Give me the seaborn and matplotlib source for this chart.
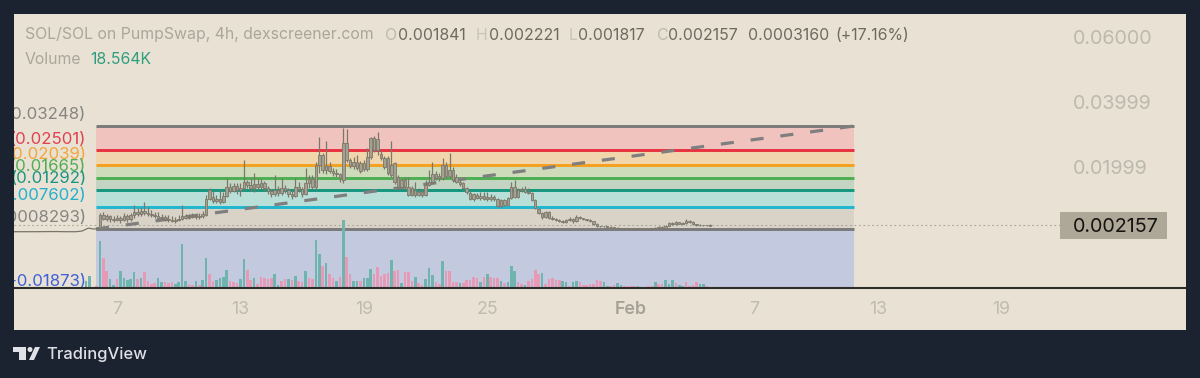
import pandas as pd
import matplotlib
matplotlib.use("Agg")
import matplotlib.pyplot as plt
import seaborn as sns
from matplotlib.patches import Polygon, Ellipse, FancyBboxPatch

# ---------------- DATA ----------------
# prices in units of 0.001 SOL, one candle every 4h from Jan 6 04:00
opens = [
    1.1, 5.1, 3.9, 4.8, 3.9, 3.6, 4.2, 3.6, 4.8, 3.9,
    5.1, 6.0, 5.4, 6.3, 5.7, 5.4, 5.1, 4.8, 4.2, 4.5,
    3.9, 3.6, 3.3, 3.6, 3.9, 4.8, 4.2, 4.5, 4.8, 4.5,
    4.8, 5.1, 10.0, 10.7, 9.4, 10.0, 9.1, 11.0, 13.8, 12.5,
    14.1, 12.8, 13.4, 15.3, 14.4, 13.4, 14.7, 13.8, 15.0, 13.4,
    12.5, 11.6, 12.8, 11.9, 13.4, 12.8, 11.6, 11.0, 13.8, 13.1,
    11.6, 15.0, 16.2, 13.8, 20.5, 23.6, 19.0, 20.2, 18.7, 18.1,
    17.7, 15.9, 27.3, 22.0, 20.2, 21.4, 18.7, 21.1, 19.3, 23.0,
    28.8, 25.1, 24.0, 22.7, 18.1, 20.5, 21.1, 16.8, 13.8, 15.9,
    13.8, 11.3, 12.8, 11.3, 12.2, 11.3, 14.4, 15.3, 17.7, 16.5,
    16.5, 20.5, 17.0, 19.0, 16.8, 15.3, 15.0, 13.4, 12.0, 10.0,
    11.3, 10.4, 11.0, 10.0, 10.7, 10.0, 10.0, 7.9, 9.7, 8.2,
    10.4, 13.8, 10.7, 12.8, 13.1, 12.2, 12.0, 9.7, 7.0, 5.7,
    4.5, 6.0, 4.2, 3.9, 3.6, 3.3, 3.0, 3.6, 3.9, 3.3,
    4.5, 4.2, 3.9, 3.6, 3.3, 2.4, 1.8, 1.7, 1.6, 1.5,
    1.3, 1.2, 1.1, 1.1, 1.0, 1.0, 0.9, 0.9, 0.9, 0.85,
    0.85, 0.9, 0.85, 1.1, 1.5, 1.2, 1.8, 2.7, 2.3, 2.9,
    2.5, 2.7, 3.3, 3.0, 2.4, 2.1, 2.0, 2.1, 1.841,
]
closes = [
    5.1, 3.9, 4.8, 3.9, 3.6, 4.2, 3.6, 4.8, 3.9, 5.1,
    6.0, 5.4, 6.3, 5.7, 5.4, 5.1, 4.8, 4.2, 4.5, 3.9,
    3.6, 3.3, 3.6, 3.9, 4.8, 4.2, 4.5, 4.8, 4.5, 4.8,
    5.4, 10.0, 12.8, 9.4, 10.0, 9.1, 11.0, 13.8, 12.5, 14.1,
    12.8, 13.4, 15.3, 14.4, 13.4, 14.7, 13.8, 15.0, 13.4, 12.5,
    11.6, 12.8, 11.9, 13.4, 12.8, 11.6, 11.0, 13.8, 13.1, 11.6,
    15.0, 16.2, 13.8, 20.5, 23.6, 19.0, 20.2, 18.7, 18.1, 17.7,
    16.5, 27.3, 22.0, 20.2, 21.4, 19.6, 21.1, 19.3, 23.0, 28.8,
    25.1, 28.5, 22.7, 20.0, 22.7, 17.4, 15.3, 13.8, 15.9, 13.8,
    11.3, 13.4, 11.3, 12.2, 11.3, 14.4, 15.3, 17.7, 16.5, 17.0,
    20.5, 17.0, 19.0, 15.9, 15.3, 14.7, 13.4, 12.2, 10.0, 11.6,
    10.4, 11.0, 10.0, 10.7, 10.0, 10.7, 7.9, 9.7, 8.2, 10.4,
    13.8, 10.7, 12.8, 13.1, 12.2, 12.0, 9.7, 7.3, 5.7, 4.5,
    6.0, 4.2, 3.9, 3.6, 3.3, 3.0, 3.6, 3.9, 3.3, 4.5,
    4.2, 3.9, 3.6, 3.3, 2.4, 1.8, 1.7, 1.6, 1.5, 1.3,
    1.2, 1.1, 1.1, 1.0, 1.0, 0.9, 0.9, 0.9, 0.85, 0.85,
    0.9, 0.85, 1.1, 1.5, 1.2, 1.8, 2.7, 2.3, 2.9, 2.5,
    2.7, 3.3, 3.0, 2.4, 2.1, 2.0, 2.1, 2.0, 2.157,
]
highs = [
    5.7, 6.0, 5.4, 5.1, 4.8, 5.1, 4.8, 5.7, 5.4, 5.7,
    8.2, 7.3, 7.6, 9.1, 7.6, 6.7, 6.0, 6.0, 5.4, 5.1,
    5.1, 4.8, 4.5, 5.1, 8.2, 5.4, 5.4, 5.7, 5.4, 5.7,
    6.3, 11.3, 13.4, 12.5, 11.3, 12.8, 12.2, 16.5, 15.0, 15.0,
    15.0, 15.0, 22.0, 16.0, 16.5, 18.1, 16.5, 16.2, 15.6, 14.1,
    13.1, 17.4, 14.1, 16.5, 14.4, 13.4, 12.5, 16.5, 15.3, 13.8,
    19.6, 17.4, 17.4, 21.5, 29.1, 24.2, 28.0, 21.5, 19.6, 19.3,
    18.1, 31.9, 31.6, 22.7, 23.0, 23.6, 21.8, 22.0, 25.7, 29.1,
    29.4, 30.6, 25.1, 23.3, 23.3, 27.9, 21.5, 17.4, 16.5, 16.8,
    16.8, 14.1, 15.3, 13.4, 13.1, 15.9, 19.0, 21.4, 18.7, 18.0,
    22.7, 21.4, 24.2, 20.0, 17.7, 15.9, 15.3, 13.8, 12.5, 12.0,
    11.9, 12.2, 12.2, 12.2, 11.6, 11.3, 10.4, 10.0, 10.0, 10.7,
    15.3, 15.9, 13.4, 13.8, 14.1, 13.4, 12.2, 10.0, 7.3, 6.0,
    6.3, 6.3, 4.8, 4.2, 3.9, 3.6, 3.9, 4.5, 4.2, 5.1,
    4.8, 4.3, 4.0, 3.8, 3.4, 2.6, 1.9, 1.8, 1.8, 1.6,
    1.5, 1.3, 1.2, 1.2, 1.1, 1.1, 1.0, 1.0, 0.95, 0.9,
    0.95, 1.0, 1.3, 1.7, 1.7, 2.0, 3.0, 3.0, 3.3, 3.0,
    3.0, 3.9, 3.5, 3.2, 2.5, 2.3, 2.2, 2.2, 2.221,
]
lows = [
    0.8, 3.6, 3.3, 3.0, 3.0, 3.3, 2.7, 3.3, 3.0, 3.3,
    4.2, 4.8, 4.8, 5.1, 4.8, 4.5, 4.2, 3.6, 3.6, 3.3,
    3.0, 3.0, 2.7, 3.3, 3.6, 3.9, 3.9, 4.2, 3.9, 3.9,
    4.2, 4.8, 9.7, 8.8, 8.8, 8.5, 8.8, 10.7, 12.0, 12.2,
    11.6, 11.0, 12.8, 13.4, 12.5, 12.2, 12.8, 13.1, 12.5, 11.6,
    10.7, 11.0, 11.0, 11.3, 11.9, 10.7, 10.0, 10.7, 12.2, 10.7,
    11.3, 13.4, 13.1, 13.1, 18.0, 18.1, 17.7, 18.1, 17.1, 16.8,
    15.3, 15.0, 21.4, 19.6, 19.3, 19.0, 18.1, 18.7, 18.7, 22.4,
    24.5, 23.6, 22.0, 19.3, 17.4, 16.8, 14.7, 13.1, 13.1, 13.1,
    11.0, 11.0, 10.7, 11.0, 10.7, 11.0, 14.1, 15.0, 16.0, 15.6,
    16.0, 16.5, 16.5, 15.3, 15.0, 14.1, 13.0, 11.6, 9.7, 9.4,
    10.0, 9.7, 9.7, 9.4, 9.4, 9.4, 7.6, 7.3, 7.9, 8.0,
    10.0, 10.4, 10.4, 12.2, 11.9, 11.6, 9.4, 7.0, 5.4, 4.0,
    4.2, 3.9, 3.6, 3.3, 3.0, 2.7, 2.7, 3.3, 2.8, 3.0,
    3.9, 3.6, 3.3, 3.1, 2.1, 1.5, 1.4, 1.3, 1.2, 1.1,
    1.1, 1.0, 1.0, 0.9, 0.9, 0.9, 0.85, 0.85, 0.83, 0.83,
    0.83, 0.83, 0.83, 1.0, 1.1, 1.1, 1.6, 2.0, 2.1, 2.3,
    2.4, 2.5, 2.7, 2.2, 1.9, 1.9, 1.9, 1.9, 1.817,
]

# volume in K, first four bars come before the fib box starts
volumes = [
    105, 180, 20, 25,
    705, 450, 255, 135, 45, 135, 255, 150, 120, 135,
    240, 135, 150, 240, 105, 60, 75, 150, 90, 90,
    75, 90, 60, 90, 660, 105, 60, 45, 105, 45,
    120, 450, 210, 105, 120, 150, 165, 270, 105, 90,
    75, 135, 435, 270, 120, 150, 60, 165, 150, 135,
    150, 210, 45, 105, 135, 135, 120, 180, 105, 90,
    255, 150, 135, 720, 510, 330, 375, 210, 150, 105,
    165, 1020, 465, 210, 105, 105, 105, 150, 150, 285,
    210, 315, 180, 210, 225, 420, 255, 270, 75, 240,
    240, 105, 165, 75,
    45, 135, 300, 195, 90, 60, 405, 255, 255, 90,
    90, 75, 75, 120, 120, 165, 150, 90, 165, 210,
    165, 150, 150, 105, 75, 90, 330, 255, 90, 60,
    45, 105, 135, 270, 210, 225, 60, 135, 150, 120,
    120, 105, 90, 30, 90, 105, 90, 45, 45, 60,
    60, 120, 105, 90, 30, 30, 45, 75, 45, 30,
    30, 30, 30, 30, 15, 15, 30, 30, 90, 60,
    60, 120, 60, 120, 75, 45, 30, 90, 30, 45,
    90, 60, 60, 30, 18.564,
]
volume_sides = (
    "gggr"
    "grrggrgggg" "grgrrrrggr" "rrggggrrgr" "ggrrggggrr" "rggrrgrrrr"
    "rggrrgrgrr" "grrggrgrrg" "rgrrggrggg" "rrrrrgrrgr" "rrgr"
    "rgggrrgrrr" "rgrrrrrgrg" "rrrgrgggrr" "grrrrgrrrr" "rggrggrrrr"
    "rrrggrrggr" "rrrgrrrrgr" "rgggrggrr" "r" "rggrg"
)

levels = [32.48, 25.01, 20.39, 16.65, 12.92, 7.602, 0.8293, -18.73]
level_labels = ["(0.03248)", "(0.02501)", "(0.02039)", "(0.01665)", "(0.01292)",
                "(0.007602)", "(0.0008293)", "(-0.01873)"]
level_colors = ["#7a7a7a", "#e8323f", "#f5a01e", "#4caf50", "#14967e", "#1fb6d0", "#7a7a7a", None]
label_colors = ["#858582", "#e0414f", "#f2a63c", "#4fae54", "#1a9580", "#25afcc", "#858582", "#3f60d8"]
band_colors = ["#f0c3bf", "#f1d5ac", "#cfdcbc", "#c3d5c2", "#b9e0d8", "#d9d2c7", "#c3c9df"]

pre_days = [2.0, 3.0, 4.0, 4.5, 5.0, 5.3, 5.6, 5.9, 6.17]
pre_prices = [0.0, 0.0, 0.05, 0.0, 0.0, 0.2, 1.1, 0.8, 1.1]

price_ticks = [60.0, 39.99, 19.99]
price_tick_labels = ["0.06000", "0.03999", "0.01999"]
last_price = 2.157

day_ticks = [7, 13, 19, 25, 32, 38, 44, 50]
day_labels = ["7", "13", "19", "25", "Feb", "7", "13", "19"]

# ---------------- LAYOUT ----------------
W, H = 1200, 378
BG = "#1b2230"
PANEL = "#e9e2d4"
GREY = "#aaa69b"
VALUE = "#6e6a60"
FONT = "Inter"
PX_PER_DAY = 20.57


def fx(x):
    return x / W


def fy(y):
    return 1 - y / H


def day_of(x_px):
    return 7 + (x_px - 117) / PX_PER_DAY


def price_of(y_px):
    return 0.83 + (229 - y_px) / 3.254


sns.set_theme(style="white")
plt.rcParams["font.family"] = [FONT, "DejaVu Sans"]

days = [6 + 1 / 6 + i / 6 for i in range(len(closes))]
vol_days = [6 + 1 / 6 + (i - 4) / 6 for i in range(len(volumes))]
box_left, box_right = day_of(96), day_of(854)

fig = plt.figure(figsize=(W / 100, H / 100), dpi=100, facecolor=BG)
rect = [fx(14), fy(330), fx(1172), (330 - 14) / H]
ax = fig.add_axes(rect, facecolor=PANEL)
ax.set_xlim(day_of(14), day_of(1186))
ax.set_ylim(price_of(330), price_of(14))

# fib bands and lines, the lowest band stops at the volume rule
for i, color in enumerate(band_colors):
    ax.fill_between([box_left, box_right], levels[i], max(levels[i + 1], price_of(288)),
                    color=color, lw=0, zorder=1)
for level, color in zip(levels, level_colors):
    if color:
        ax.plot([box_left, box_right], [level, level], color=color, lw=2.1, zorder=2,
                solid_capstyle="butt")
for level, text, color in zip(levels, level_labels, label_colors):
    ax.annotate(text, xy=(day_of(86), level), xytext=(0, 8.0), textcoords="offset points",
                ha="right", va="center", fontsize=12.1, color=color, clip_on=True,
                annotation_clip=False, zorder=6)

# last price line and trend line
ax.plot([day_of(14), day_of(1060)], [last_price, last_price], color="#a8a498", lw=0.8,
        ls=(0, (1.5, 2.5)), zorder=3)
trend = pd.DataFrame({"day": [box_left, box_right], "price": [levels[6], levels[0]]})
sns.lineplot(data=trend, x="day", y="price", color="#7f7f7f", lw=2.3, ax=ax, zorder=3,
             linestyle=(0, (4.1, 5.3)))
sns.lineplot(x=pre_days, y=pre_prices, color="#77756c", lw=0.9, ax=ax, zorder=3)

# candles
tops = [max(o, c) for o, c in zip(opens, closes)]
bottoms = [min(o, c) for o, c in zip(opens, closes)]
ax.vlines(days, lows, highs, color="#7b786a", lw=0.9, zorder=4)
ax.bar(days, [t - b for t, b in zip(tops, bottoms)], bottom=bottoms, width=0.12,
       color="#a5a192", edgecolor="#7b786a", lw=0.6, zorder=5)

ax.set_xticks(day_ticks, day_labels)
ax.set_yticks([])
ax.set_xlabel("")
ax.set_ylabel("")
ax.tick_params(axis="x", length=0, labelsize=12.8, labelcolor="#bfbbaf", pad=-21)
for label in ax.get_xticklabels():
    if label.get_text() == "Feb":
        label.set_color("#a5a196")
        label.set_fontweight("semibold")
for spine in ax.spines.values():
    spine.set_visible(False)

for tick, text in zip(price_ticks, price_tick_labels):
    ax.annotate(text, xy=(day_of(1073), tick), xytext=(0, -1.5), textcoords="offset points",
                ha="left", va="center", fontsize=14.2, color="#bdb9ae")

# volume on its own scale, 0 on the bottom rule
ax_vol = fig.add_axes(rect, facecolor="none")
vol_df = pd.DataFrame({"day": vol_days, "volume": volumes, "side": list(volume_sides)})
sns.barplot(data=vol_df, x="day", y="volume", hue="side", palette={"g": "#6fb4ae", "r": "#e69ab5"},
            native_scale=True, dodge=False, width=0.75, legend=False, saturation=1, linewidth=0,
            ax=ax_vol, zorder=3)
ax_vol.set_xlim(ax.get_xlim())
ax_vol.set_ylim(-630, 4110)
ax_vol.plot([box_right, day_of(1186)], [18, 18], color="#fbf8f0", lw=0.7, zorder=4)
ax_vol.axhline(0, color="#2e2d2b", lw=1.5, zorder=5)
ax_vol.axis("off")

# price tag
tag = FancyBboxPatch((fx(1060), fy(239)), fx(107), 27 / H, boxstyle="round,pad=0,rounding_size=0.001",
                     transform=fig.transFigure, facecolor="#aea899", edgecolor="none", zorder=8)
fig.add_artist(tag)
fig.text(fx(1073), fy(226.5), "0.002157", ha="left", va="center", fontsize=14.2, color="#14130f", zorder=9)

# header
fig.text(fx(25), fy(35), "SOL/SOL on PumpSwap, 4h, dexscreener.com", fontsize=11.4, color=GREY, va="center")
header = [
    (385, "O", "#bdb9ae"), (398, "0.001841", VALUE),
    (476, "H", "#c8c4b9"), (489, "0.002221", VALUE),
    (569, "L", "#c8c4b9"), (578, "0.001817", VALUE),
    (657, "C", "#bdb9ae"), (668, "0.002157", VALUE),
    (748, "0.0003160", VALUE), (835, "(+17.16%)", VALUE),
]
for x, text, color in header:
    fig.text(fx(x), fy(35), text, fontsize=11.4, color=color, va="center")
fig.text(fx(25), fy(59), "Volume", fontsize=11.4, color=GREY, va="center")
fig.text(fx(90), fy(59), "18.564K", fontsize=11.4, color="#2f9e7f", va="center")

# TradingView mark
mark = "#dfe1e6"
T_SHAPE = [(13, 347), (26, 347), (26, 360), (19, 360), (19, 352), (13, 352)]
SLASH = [(29, 360), (34, 360), (40, 347), (35, 347)]
for shape in (T_SHAPE, SLASH):
    fig.add_artist(Polygon([(fx(x), fy(y)) for x, y in shape], closed=True,
                           transform=fig.transFigure, facecolor=mark, edgecolor="none"))
fig.add_artist(Ellipse((fx(30), fy(349.5)), fx(5), 5 / H, transform=fig.transFigure,
                       facecolor=mark, edgecolor="none"))
fig.text(fx(46), fy(355), "TradingView", fontsize=11.9, color=mark, va="center", fontweight="medium")

fig.savefig("out.png", dpi=100, facecolor=BG)
